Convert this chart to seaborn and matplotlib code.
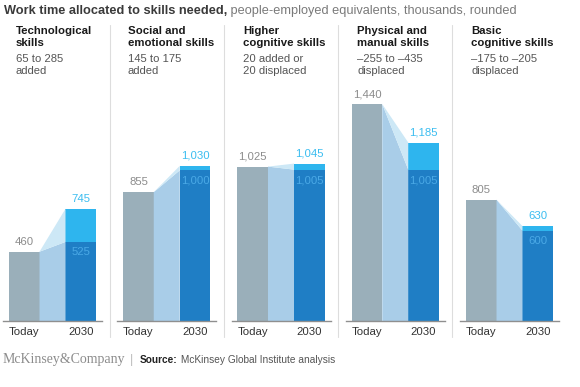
import matplotlib
matplotlib.use('Agg')
import matplotlib.pyplot as plt
import pandas as pd
import seaborn as sns

# Data (thousands of people-employed equivalents)
skills = ['Technological\nskills', 'Social and\nemotional skills', 'Higher\ncognitive skills',
          'Physical and\nmanual skills', 'Basic\ncognitive skills']
ranges = ['65 to 285\nadded', '145 to 175\nadded', '20 added or\n20 displaced',
          '\u2013255 to \u2013435\ndisplaced', '\u2013175 to \u2013205\ndisplaced']
today = [460, 855, 1025, 1440, 805]
low_2030 = [525, 1000, 1005, 1005, 600]
high_2030 = [745, 1030, 1045, 1185, 630]
periods = ['Today', '2030']

GRAY = '#9aafba'
DARK = '#1f7ec5'
LIGHT = '#2eb5ee'
AREA = '#a9cde8'
AREA_HI = '#cde8f6'

sns.set_theme(style='white')
plt.rcParams['font.family'] = ['Liberation Sans', 'DejaVu Sans']

W, H = 580, 387
fig = plt.figure(figsize=(5.8, 3.87), dpi=100)

def px(x, y):
    return x / W, 1 - y / H

bw = 0.54
for i in range(5):
    left = 3 + 114.25 * i
    ax = fig.add_axes([left / W, 1 - 321 / H, 99 / W, 241 / H])
    df = pd.DataFrame({'period': periods, 'value': [today[i], high_2030[i]]})
    sns.barplot(data=df, x='period', y='value', hue='period', order=periods,
                palette=[GRAY, LIGHT], width=bw, legend=False, ax=ax,
                saturation=1, linewidth=0)
    df_low = pd.DataFrame({'period': ['2030'], 'value': [low_2030[i]]})
    sns.barplot(data=df_low, x='period', y='value', order=periods, color=DARK,
                width=bw, ax=ax, saturation=1, linewidth=0)

    # connecting areas between the two bars
    x0, x1 = bw / 2, 1 - bw / 2
    ax.fill([x0, x0, x1, x1], [0, today[i], low_2030[i], 0], color=AREA, lw=0, zorder=1)
    ax.fill([x0, x1, x1], [today[i], high_2030[i], low_2030[i]], color=AREA_HI, lw=0, zorder=1)

    ax.annotate(f'{today[i]:,}', (0, today[i]), xytext=(0, 3.5), textcoords='offset points',
                ha='center', va='bottom', fontsize=8.2, color='#8c8c8c')
    ax.annotate(f'{high_2030[i]:,}', (1, high_2030[i]), xytext=(0, 3.5), textcoords='offset points',
                ha='center', va='bottom', fontsize=8.2, color='#3bbdf0')
    ax.annotate(f'{low_2030[i]:,}', (1, low_2030[i]), xytext=(0, -4), textcoords='offset points',
                ha='center', va='top', fontsize=8.2, color='#4aa9e6')

    ax.set_xlim(-0.376, 1.376)
    ax.set_ylim(0, 1600)
    ax.set_xlabel('')
    ax.set_ylabel('')
    ax.set_yticks([])
    ax.tick_params(axis='x', length=0, pad=4, labelsize=8.2, labelcolor='#333333')
    for s in ['top', 'left', 'right']:
        ax.spines[s].set_visible(False)
    ax.spines['bottom'].set_color('#8f8f8f')
    ax.spines['bottom'].set_linewidth(1)

    hx = [16, 128, 243, 357, 471][i]
    fig.text(*px(hx, 37), skills[i], fontsize=8.2, fontweight='bold', color='#1a1a1a',
             ha='left', va='center', linespacing=1.2)
    fig.text(*px(hx, 65.5), ranges[i], fontsize=8.1, color='#555555',
             ha='left', va='center', linespacing=1.25)

# panel dividers
for xd in [110, 224, 338, 452]:
    fig.add_artist(plt.Line2D([xd / W, xd / W], [1 - 25 / H, 1 - 337 / H],
                              color='#dddddd', lw=0.8))

# title: bold part then grey part on the same baseline
t1 = fig.text(*px(4, 14), 'Work time allocated to skills needed,', fontsize=9.2,
              fontweight='bold', color='#3a3a3a', ha='left', va='baseline')
fig.canvas.draw()
bb = t1.get_window_extent()
fig.text(bb.x1 / fig.dpi / 5.8, 1 - 14 / H,
         ' people-employed equivalents, thousands, rounded', fontsize=9.2,
         color='#7a7a7a', ha='left', va='baseline')

# footer
fig.text(*px(3, 360), 'McKinsey&Company', fontsize=10, family=['Liberation Serif', 'DejaVu Serif'],
         color='#8c8c8c', ha='left', va='center')
fig.text(*px(130, 360), '|', fontsize=9, color='#bbbbbb', ha='left', va='center')
s1 = fig.text(*px(140, 360), 'Source:', fontsize=7.3, fontweight='bold', color='#222222',
              ha='left', va='center')
fig.canvas.draw()
sb = s1.get_window_extent()
fig.text(sb.x1 / fig.dpi / 5.8, 1 - 360 / H, ' McKinsey Global Institute analysis', fontsize=7.3,
         color='#555555', ha='left', va='center')

fig.savefig('out.png', dpi=100)
